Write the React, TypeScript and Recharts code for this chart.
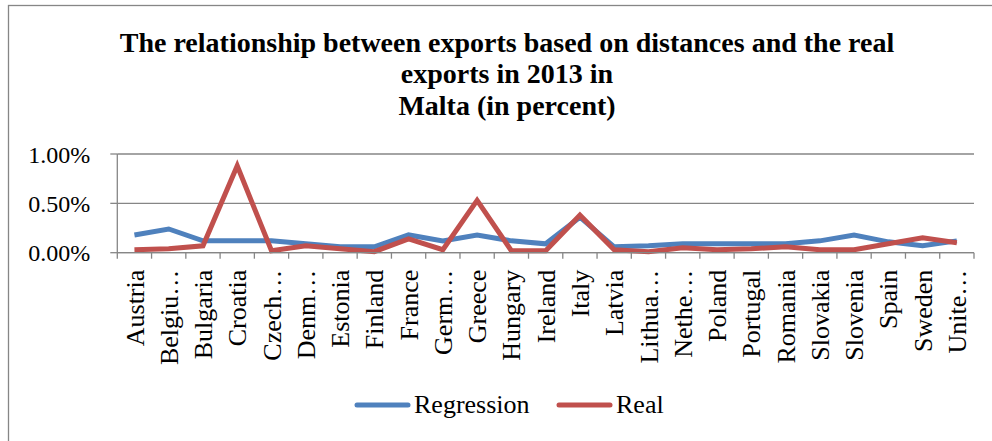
import React from 'react';
import { LineChart, Line, XAxis, YAxis, CartesianGrid } from 'recharts';

const countries = [
  'Austria', 'Belgiu…', 'Bulgaria', 'Croatia', 'Czech…', 'Denm…', 'Estonia', 'Finland', 'France',
  'Germ…', 'Greece', 'Hungary', 'Ireland', 'Italy', 'Latvia', 'Lithua…', 'Nethe…', 'Poland',
  'Portugal', 'Romania', 'Slovakia', 'Slovenia', 'Spain', 'Sweden', 'Unite…',
];
const regression = [
  0.18, 0.24, 0.12, 0.12, 0.12, 0.09, 0.06, 0.06, 0.18, 0.12, 0.18, 0.12, 0.09, 0.36, 0.06, 0.07, 0.09,
  0.09, 0.09, 0.09, 0.12, 0.18, 0.11, 0.07, 0.12,
];
const real = [
  0.03, 0.04, 0.07, 0.88, 0.02, 0.07, 0.04, 0.01, 0.14, 0.03, 0.53, 0.02, 0.02, 0.38, 0.03, 0.01, 0.05,
  0.03, 0.04, 0.06, 0.03, 0.03, 0.09, 0.15, 0.10,
];
const yTicks = [0, 0.5, 1.0];
const seriesNames = ['Regression', 'Real'];
const seriesColors = ['#4F81BD', '#C0504D'];
const titleLines = [
  'The relationship between exports based on distances and the real',
  'exports in 2013 in',
  'Malta (in percent)',
];

const data = countries.map((c, i) => ({ name: c, Regression: regression[i], Real: real[i] }));

const W = 992;
const H = 441;
const PLOT_LEFT = 117.3;
const PLOT_RIGHT = 974;
const PLOT_TOP = 154;
const PLOT_BOTTOM = 252.7;
const PLOT_W = PLOT_RIGHT - PLOT_LEFT;
const BAND = PLOT_W / countries.length;
const YW = 60;
const XH = 120;
const FONT = '"Liberation Serif", "Times New Roman", serif';
const GRAY = '#868686';

const XTick = (props: any) => {
  const { x, y, payload, index } = props;
  return (
    <g>
      <line x1={x - BAND / 2} x2={x - BAND / 2} y1={y} y2={y + 6} stroke={GRAY} strokeWidth={1.3} />
      {index === countries.length - 1 && (
        <line x1={x + BAND / 2} x2={x + BAND / 2} y1={y} y2={y + 6} stroke={GRAY} strokeWidth={1.3} />
      )}
      <text
        transform={`translate(${x},${y + 17}) rotate(-90)`}
        textAnchor="end"
        dy="0.35em"
        fontSize={26}
        fontFamily={FONT}
        fill="#000"
      >
        {payload.value}
      </text>
    </g>
  );
};

export default function App() {
  return (
    <div style={{ position: 'absolute', left: 0, top: 0, width: W, height: H, overflow: 'hidden', background: '#fff' }}>
      <div style={{ position: 'absolute', left: 0, top: 0 }}>
        <LineChart
          width={W}
          height={H}
          data={data}
          margin={{ top: PLOT_TOP, right: W - PLOT_RIGHT, bottom: H - PLOT_BOTTOM - XH, left: PLOT_LEFT - YW }}
        >
          <CartesianGrid vertical={false} stroke={GRAY} strokeWidth={1.3} />
          <XAxis
            dataKey="name"
            interval={0}
            height={XH}
            padding={{ left: BAND / 2, right: BAND / 2 }}
            tickSize={0}
            tickMargin={0}
            tick={<XTick />}
            axisLine={{ stroke: GRAY, strokeWidth: 1.3 }}
            tickLine={false}
          />
          <YAxis
            width={YW}
            domain={[0, 1]}
            ticks={yTicks}
            tickFormatter={(v: number) => v.toFixed(2) + '%'}
            tickSize={7}
            tickMargin={20}
            axisLine={{ stroke: GRAY, strokeWidth: 1.3 }}
            tickLine={{ stroke: GRAY, strokeWidth: 1.3 }}
            tick={{ fill: '#000', fontSize: 24, fontFamily: FONT }}
          />
          {seriesNames.map((s, i) => (
            <Line
              key={s}
              type="linear"
              dataKey={s}
              stroke={seriesColors[i]}
              strokeWidth={5}
              dot={false}
              activeDot={false}
              isAnimationActive={false}
            />
          ))}
        </LineChart>
      </div>
      <svg width={W} height={H} style={{ position: 'absolute', left: 0, top: 0, pointerEvents: 'none' }}>
        <rect x={8.5} y={5.5} width={1100} height={600} fill="none" stroke={GRAY} strokeWidth={1.3} />
        {titleLines.map((t, i) => (
          <text
            key={i}
            x={507}
            y={51.7 + i * 31.6}
            textAnchor="middle"
            fontFamily={FONT}
            fontWeight="bold"
            fontSize={28}
            fill="#000"
          >
            {t}
          </text>
        ))}
        <line x1={357} x2={408} y1={405} y2={405} stroke={seriesColors[0]} strokeWidth={5} strokeLinecap="round" />
        <text x={414} y={413.3} fontFamily={FONT} fontSize={26} fill="#000">{seriesNames[0]}</text>
        <line x1={559} x2={610} y1={405} y2={405} stroke={seriesColors[1]} strokeWidth={5} strokeLinecap="round" />
        <text x={616} y={413.3} fontFamily={FONT} fontSize={26} fill="#000">{seriesNames[1]}</text>
      </svg>
    </div>
  );
}
